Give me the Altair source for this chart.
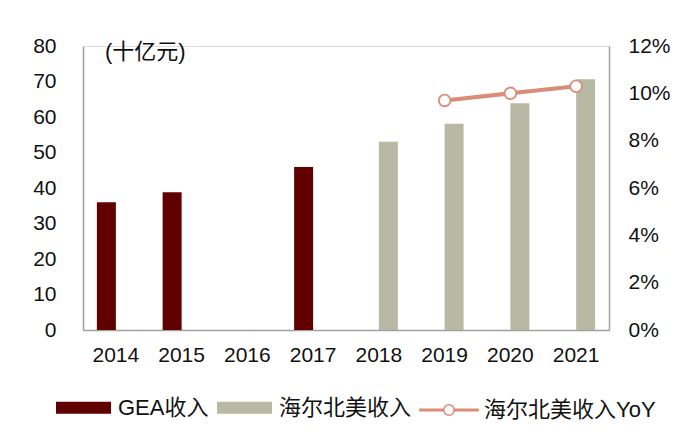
import altair as alt
import pandas as pd

years = ["2014", "2015", "2016", "2017", "2018", "2019", "2020", "2021"]
gea_rev = [36.0, 38.8, None, 45.9, None, None, None, None]
haier_rev = [None, None, None, None, 53.0, 58.1, 63.9, 70.6]
haier_yoy = [None, None, None, None, None, 0.097, 0.100, 0.103]

S_GEA = "GEA收入"
S_HAIER = "海尔北美收入"
S_YOY = "海尔北美收入YoY"

FONT = "Liberation Sans, Arial, Noto Sans CJK SC"
FS = 21
LFS = 22

rows = []
for y, g, h in zip(years, gea_rev, haier_rev):
    if g is not None:
        rows.append({"year": y, "series": S_GEA, "value": g})
    if h is not None:
        rows.append({"year": y, "series": S_HAIER, "value": h})
bars_df = pd.DataFrame(rows)
line_df = pd.DataFrame(
    [{"year": y, "series": S_YOY, "yoy": v} for y, v in zip(years, haier_yoy) if v is not None]
)

xscale = alt.Scale(domain=years, paddingInner=0.422, paddingOuter=0.211)
xaxis = alt.Axis(
    title=None, labelAngle=0, ticks=False, labelPadding=14, domainColor="#A0A0A0",
    domainWidth=1.5, labelFontSize=FS, labelFont=FONT, labelColor="#111111",
)

rect_path = "M-1,-0.218H1V0.218H-1Z"
line_sym = (
    "M-1,-0.0276H-0.18V0.0276H-1Z M0.18,-0.0276H1V0.0276H0.18Z "
    "M-0.18,0A0.18,0.18 0 1,1 0.18,0A0.18,0.18 0 1,1 -0.18,0Z"
)

bars = alt.Chart(bars_df).mark_bar().encode(
    x=alt.X("year:N", scale=xscale, axis=xaxis),
    xOffset=alt.XOffset("series:N", scale=alt.Scale(domain=[S_GEA, S_HAIER], paddingInner=0, paddingOuter=0)),
    y=alt.Y(
        "value:Q",
        scale=alt.Scale(domain=[0, 80]),
        axis=alt.Axis(
            title=None, values=list(range(0, 81, 10)), ticks=False, grid=False,
            labelPadding=27, domainColor="#A0A0A0", domainWidth=1.5,
            labelFontSize=FS, labelFont=FONT, labelColor="#111111",
        ),
    ),
    color=alt.Color(
        "series:N",
        scale=alt.Scale(domain=[S_GEA, S_HAIER], range=["#600000", "#B9B8A5"]),
        legend=alt.Legend(
            title=None, orient="none", direction="horizontal", legendX=-27, legendY=334,
            symbolType=rect_path, symbolSize=3025, symbolStrokeWidth=0, padding=0,
            labelFontSize=LFS, labelFont=FONT, labelColor="#111111", labelOffset=7,
            columnPadding=8, symbolOpacity=1, labelLimit=400,
        ),
    ),
)

yoy_axis = alt.Axis(
    title=None, orient="right", values=[0, 0.02, 0.04, 0.06, 0.08, 0.10, 0.12], format=".0%",
    ticks=False, grid=False, labelPadding=19, domainColor="#A0A0A0", domainWidth=1.5,
    labelFontSize=FS, labelFont=FONT, labelColor="#111111",
)
yoy_scale = alt.Scale(domain=[0, 0.12])

line = alt.Chart(line_df).mark_line(strokeWidth=4).encode(
    x=alt.X("year:N", scale=xscale, axis=xaxis),
    y=alt.Y("yoy:Q", scale=yoy_scale, axis=yoy_axis),
    stroke=alt.Stroke(
        "series:N",
        scale=alt.Scale(domain=[S_YOY], range=["#D98D77"]),
        legend=alt.Legend(
            title=None, orient="none", direction="horizontal", legendX=336, legendY=334,
            symbolType=line_sym, symbolSize=3364, symbolStrokeWidth=1.6,
            symbolStrokeColor="#D98D77", symbolFillColor="white", symbolOpacity=1, padding=0,
            labelFontSize=LFS, labelFont=FONT, labelColor="#111111", labelOffset=5,
            labelLimit=400,
        ),
    ),
)
points = alt.Chart(line_df).mark_point(
    filled=True, fill="white", size=135, strokeWidth=1.8, opacity=1
).encode(
    x=alt.X("year:N", scale=xscale, axis=xaxis),
    y=alt.Y("yoy:Q", scale=yoy_scale, axis=yoy_axis),
    stroke=alt.Stroke("series:N", scale=alt.Scale(domain=[S_YOY], range=["#D98D77"])),
)

chart = (
    alt.layer(bars, line + points)
    .resolve_scale(y="independent")
    .properties(
        width=526, height=284, autosize="none",
        padding={"left": 75, "top": 38, "right": 83, "bottom": 110},
        title=alt.TitleParams(
            text="(十亿元)", anchor="start", orient="top", frame="group", dx=22, dy=39,
            offset=0, baseline="middle", fontSize=LFS, font=FONT, fontWeight="normal",
            color="#111111",
        ),
    )
    .configure_view(stroke=None)
    .configure(background="white")
)

chart.save("out.html", embed_options={"renderer": "svg", "actions": False})
